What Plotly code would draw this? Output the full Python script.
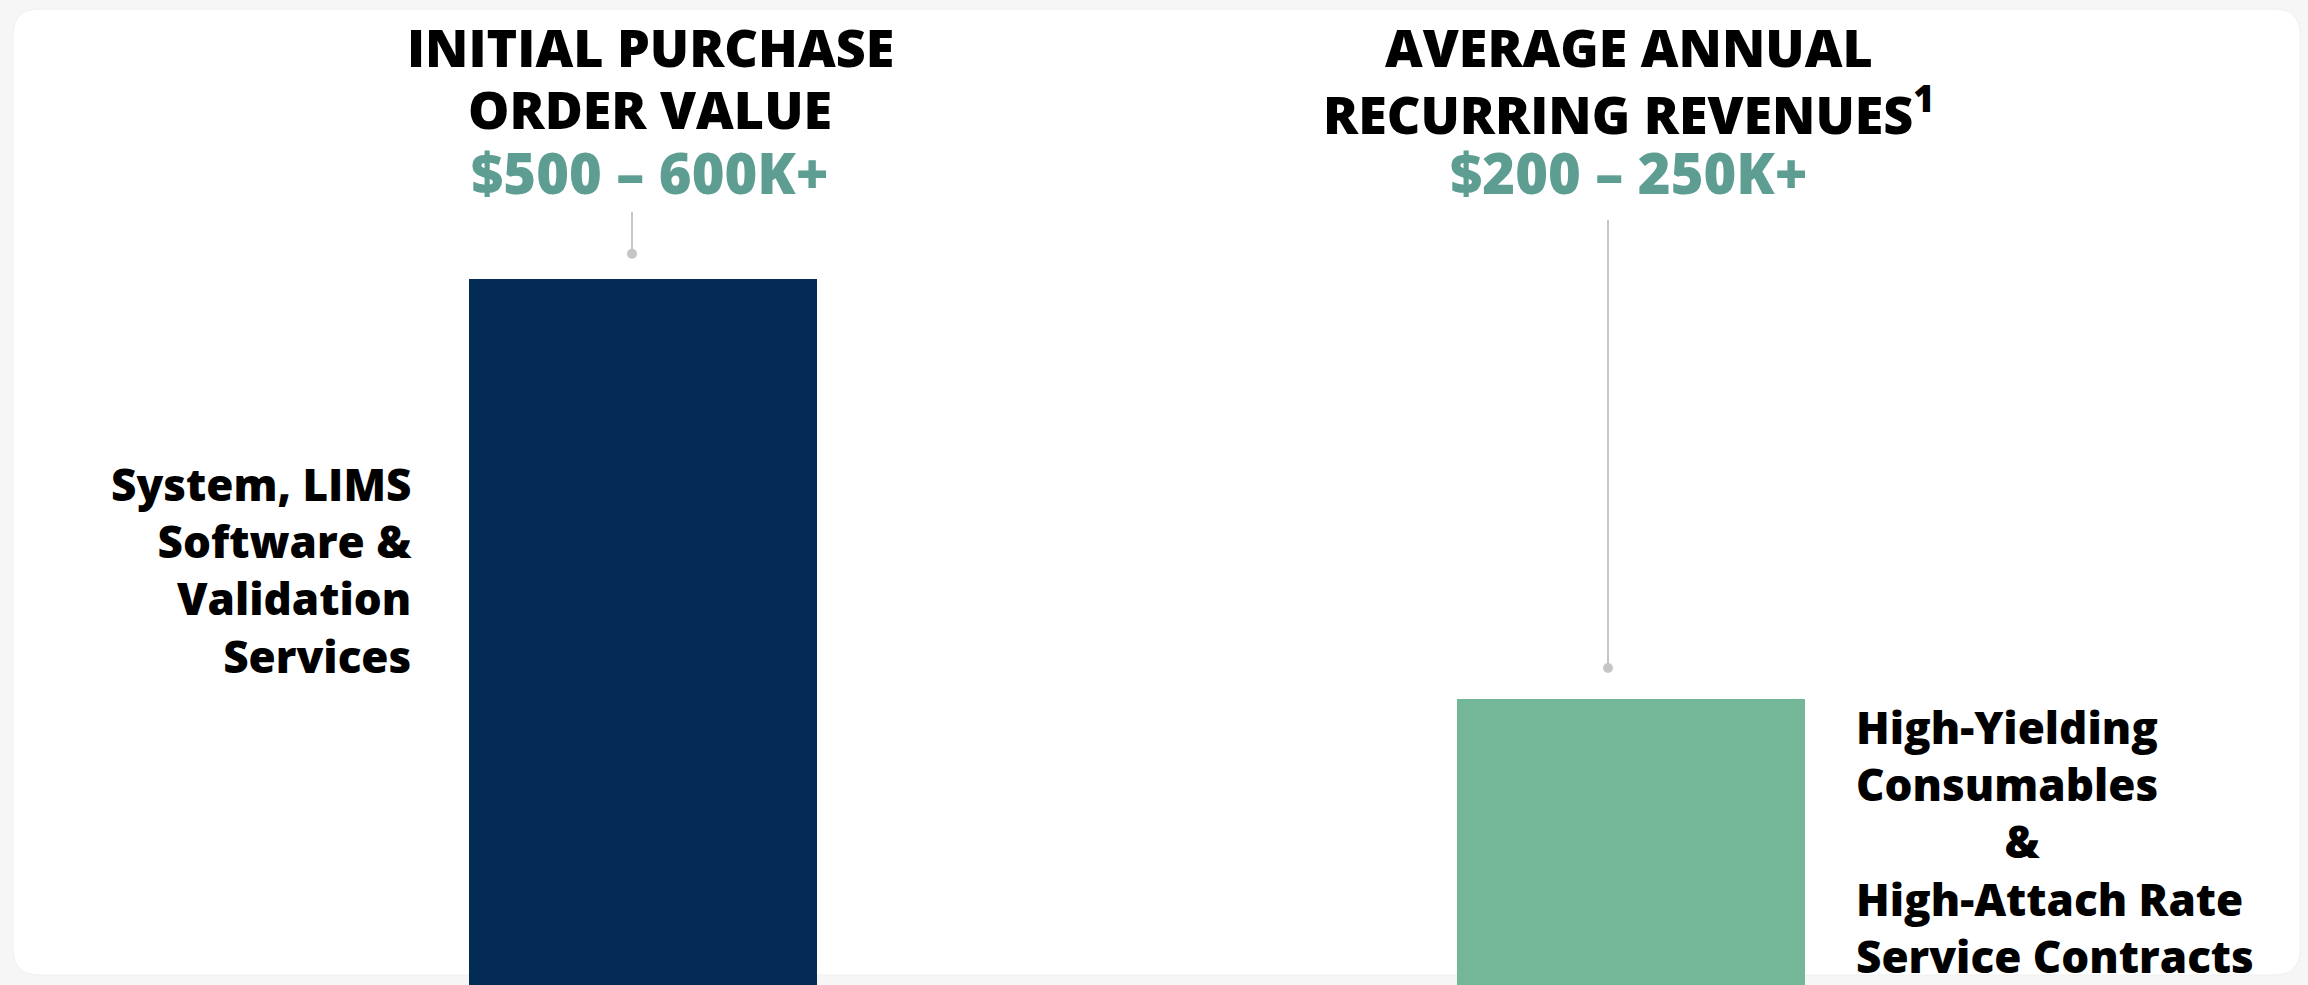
import plotly.graph_objects as go

# ---------------- data ----------------
categories = ["Initial Purchase Order Value", "Average Annual Recurring Revenues"]
values = [550, 225]  # $K (midpoints of the stated ranges)
titles = ["INITIAL PURCHASE<br>ORDER VALUE",
          "AVERAGE ANNUAL<br>RECURRING REVENUES<sup>1</sup>"]
value_labels = ["$500 – 600K+", "$200 – 250K+"]
side_labels = ["System, LIMS<br>Software &<br>Validation<br>Services",
               "High-Yielding<br>Consumables<br>\u00a0\u00a0\u00a0\u00a0\u00a0\u00a0\u00a0\u00a0\u00a0\u00a0\u00a0\u00a0\u00a0&<br>High-Attach Rate<br>Service Contracts"]

# ---------------- style ----------------
W, H = 2308, 985
bar_colors = ["#032B53", "#73B698"]
title_color = "#000000"
value_color = "#5E9E92"
conn_color = "#C6C6C6"
bg_color = "#F6F6F6"
FONT = "Open Sans"

bar_width = 0.3522
x_range = [-0.6508, 1.6852]
y_range = [3.87, 765.6]
title_xshift = [7, -2]
title_line_tops = [9, 71]


def py(px):
    return 1 - px / H


def px_x(px):
    return 1.0 * px / W


fig = go.Figure()
fig.add_trace(go.Bar(
    x=categories, y=values, width=bar_width,
    marker=dict(color=bar_colors, line=dict(width=0)),
    hoverinfo="skip", showlegend=False,
))

# connectors
conn_dx = [-0.0111, -0.0233]
conn_gap = [19.3, 24.0]
conn_top = [601.7, 595.5]
shapes = []
# card
x0, x1 = px_x(13), px_x(2300)
y0, y1 = py(975), py(9)
rx, ry = px_x(26), 26 / H
card_path = (f"M {x0+rx},{y1} L {x1-rx},{y1} Q {x1},{y1} {x1},{y1-ry} "
             f"L {x1},{y0+ry} Q {x1},{y0} {x1-rx},{y0} L {x0+rx},{y0} "
             f"Q {x0},{y0} {x0},{y0+ry} L {x0},{y1-ry} Q {x0},{y1} {x0+rx},{y1} Z")
shapes.append(dict(type="path", path=card_path, xref="paper", yref="paper",
                   fillcolor="#FFFFFF", line=dict(color="#F0F0F0", width=1), layer="below"))
dot_y = []
for i, v in enumerate(values):
    shapes.append(dict(type="line", xref="x", yref="y",
                       x0=i + conn_dx[i], x1=i + conn_dx[i],
                       y0=v + conn_gap[i], y1=conn_top[i],
                       line=dict(color=conn_color, width=2)))
    dot_y.append(v + conn_gap[i])

fig.add_trace(go.Scatter(
    x=[i + conn_dx[i] for i in range(len(values))], y=dot_y, mode="markers",
    marker=dict(color=conn_color, size=10), hoverinfo="skip", showlegend=False,
    xaxis="x2"))

annotations = []
for i in range(len(values)):
    for j, line in enumerate(titles[i].split("<br>")):
        annotations.append(dict(
            x=i, xref="x", xshift=title_xshift[i], y=py(title_line_tops[j]), yref="paper",
            xanchor="center", yanchor="top",
            text=line, showarrow=False, align="center",
            font=dict(family=FONT, size=52, color=title_color, weight=800)))
    annotations.append(dict(
        x=i, xref="x", xshift=title_xshift[i], y=py(132), yref="paper",
        xanchor="center", yanchor="top",
        text=value_labels[i], showarrow=False, align="center",
        font=dict(family=FONT, size=56, color=value_color, weight=800)))

annotations.append(dict(
    x=0 - bar_width / 2, xref="x", xshift=-55, y=py(452), yref="paper",
    xanchor="right", yanchor="top", text=side_labels[0],
    showarrow=False, align="right",
    font=dict(family=FONT, size=44, color=title_color, weight=800)))
annotations.append(dict(
    x=1 + bar_width / 2, xref="x", xshift=49, y=py(695), yref="paper",
    xanchor="left", yanchor="top", text=side_labels[1],
    showarrow=False, align="left",
    font=dict(family=FONT, size=44, color=title_color, weight=800)))

fig.update_layout(
    width=W, height=H, margin=dict(l=0, r=0, t=0, b=0),
    paper_bgcolor=bg_color, plot_bgcolor="rgba(0,0,0,0)",
    xaxis=dict(range=x_range, visible=False, fixedrange=True),
    xaxis2=dict(range=x_range, visible=False, overlaying="x", fixedrange=True),
    yaxis=dict(range=y_range, visible=False, fixedrange=True),
    shapes=shapes, annotations=annotations, bargap=0,
)

fig.write_html("out.html", config={"displayModeBar": False})
